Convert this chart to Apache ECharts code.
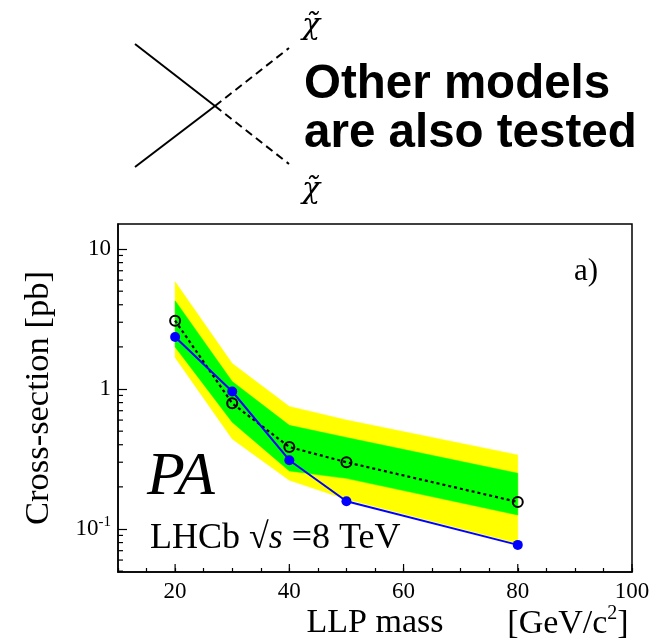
<!DOCTYPE html>
<html><head><meta charset="utf-8">
<script src="https://cdn.jsdelivr.net/npm/echarts@6/dist/echarts.min.js"></script>
<style>html,body{margin:0;padding:0;background:#fff}#c{width:671px;height:642px}</style>
</head><body><div id="c"></div>
<script>
// ---- data ----
const masses      = [20, 30, 40, 50, 80];
const expected    = [3.08, 0.79, 0.385, 0.30, 0.156];
const observed    = [2.35, 0.96, 0.31, 0.158, 0.077];
const green1Hi    = [4.27, 1.13, 0.55, 0.45, 0.25];
const green1Lo    = [2.0, 0.58, 0.26, 0.23, 0.126];
const yellow2Hi   = [5.84, 1.52, 0.75, 0.60, 0.338];
const yellow2Lo   = [1.68, 0.44, 0.223, 0.163, 0.079];
const xTickLabels = [20, 40, 60, 80, 100];
const yTickLabels = [0.1, 1, 10];
const yMinorTicks = [0.05,0.06,0.07,0.08,0.09,0.2,0.3,0.4,0.5,0.6,0.7,0.8,0.9,2,3,4,5,6,7,8,9];

const X_MIN = 10, X_MAX = 100, Y_MIN = 0.0493, Y_MAX = 15.1;
const SERIF = '"Liberation Serif","DejaVu Serif",serif';
const SANS = '"Liberation Sans",Arial,sans-serif';

const pairs = arr => masses.map((m, i) => [m, arr[i]]);
const bandData = (lo, hi) => masses.map((m, i) => [m, lo[i], hi[i]]);

const chart = echarts.init(document.getElementById('c'), null, {renderer: 'canvas'});

const isPow10 = v => Math.abs(Math.log10(v) - Math.round(Math.log10(v))) < 1e-6;

function bandSeries(name, lo, hi, color, z) {
  return {
    name: name, type: 'custom', silent: true, z: z,
    data: bandData(lo, hi),
    encode: {x: 0, y: [1, 2]},
    renderItem: (params, api) => {
      if (params.dataIndex !== 0) return null;
      const top = masses.map((m, i) => api.coord([m, hi[i]]));
      const bot = masses.map((m, i) => api.coord([m, lo[i]])).reverse();
      return {type: 'polygon', shape: {points: top.concat(bot)}, style: {fill: color, stroke: color, lineWidth: 0.5}};
    }
  };
}

chart.setOption({
  animation: false,
  backgroundColor: '#fff',
  grid: {left: 118, right: 39, top: 224, bottom: 70, show: true, borderColor: '#000', borderWidth: 1.5, backgroundColor: 'transparent'},
  xAxis: {
    type: 'value', min: X_MIN, max: X_MAX, interval: 5,
    axisLine: {show: true, lineStyle: {color: '#000', width: 1.5}},
    axisTick: {show: true, inside: true, length: 4, lineStyle: {color: '#000', width: 1.2}},
    splitLine: {show: false},
    axisLabel: {
      margin: 8, color: '#000', fontFamily: SERIF, fontSize: 23,
      formatter: v => xTickLabels.indexOf(v) >= 0 ? String(v) : ''
    }
  },
  yAxis: {
    type: 'log', logBase: 10, min: Y_MIN, max: Y_MAX,
    name: 'Cross-section [pb]', nameLocation: 'middle', nameGap: 62, nameRotate: 90,
    nameTextStyle: {fontFamily: SERIF, fontSize: 34.5, color: '#000'},
    axisLine: {show: true, lineStyle: {color: '#000', width: 1.5}},
    axisTick: {show: true, inside: true, length: 9, lineStyle: {color: '#000', width: 1.2}},
    splitLine: {show: false},
    axisLabel: {
      margin: 7, color: '#000', fontFamily: SERIF, fontSize: 23,
      showMinLabel: false, showMaxLabel: false,
      formatter: v => {
        if (!isPow10(v)) return '';
        const e = Math.round(Math.log10(v));
        if (e === 0) return '{b|1}';
        if (e === 1) return '{b|10}';
        return '{b|10}{s|' + e + '}';
      },
      rich: {
        b: {fontFamily: SERIF, fontSize: 23, color: '#000'},
        s: {fontFamily: SERIF, fontSize: 15, color: '#000', padding: [0, 0, 14, 0]}
      }
    }
  },
  series: [
    bandSeries('yellow', yellow2Lo, yellow2Hi, '#ffff00', 1),
    bandSeries('green', green1Lo, green1Hi, '#00ff00', 2),
    {name: 'expected', type: 'line', data: pairs(expected), symbol: 'circle', symbolSize: 10,
      lineStyle: {color: '#000', width: 2.2, type: [3, 3]},
      itemStyle: {color: 'rgba(0,0,0,0)', borderColor: '#000', borderWidth: 2}, z: 3},
    {name: 'observed', type: 'line', data: pairs(observed), symbol: 'circle', symbolSize: 10,
      lineStyle: {color: '#0000ff', width: 2},
      itemStyle: {color: '#0000ff'}, z: 4},
    {name: 'yMinor', type: 'custom', silent: true, z: 10, clip: false,
      data: yMinorTicks.map(v => [X_MIN, v]),
      renderItem: (params, api) => {
        const p = api.coord([X_MIN, api.value(1)]);
        return {type: 'line', shape: {x1: p[0], y1: p[1], x2: p[0] + 5, y2: p[1]}, style: {stroke: '#000', lineWidth: 1.2}};
      }},
    {name: 'xMajor', type: 'custom', silent: true, z: 10, clip: false,
      data: xTickLabels.map(v => [v, Y_MIN]),
      renderItem: (params, api) => {
        const p = api.coord([api.value(0), Y_MIN]);
        return {type: 'line', shape: {x1: p[0], y1: p[1], x2: p[0], y2: p[1] - 8}, style: {stroke: '#000', lineWidth: 1.2}};
      }}
  ],
  graphic: [
    {type: 'line', shape: {x1: 135, y1: 44, x2: 215, y2: 106}, style: {stroke: '#000', lineWidth: 2}},
    {type: 'line', shape: {x1: 135, y1: 167, x2: 215, y2: 106}, style: {stroke: '#000', lineWidth: 2}},
    {type: 'line', shape: {x1: 215, y1: 106, x2: 289, y2: 48}, style: {stroke: '#000', lineWidth: 2, lineDash: [8, 5]}},
    {type: 'line', shape: {x1: 215, y1: 106, x2: 289, y2: 164}, style: {stroke: '#000', lineWidth: 2, lineDash: [8, 5]}},
    {type: 'text', x: 311, y: 26, style: {text: 'χ̃', font: 'italic 30px "DejaVu Serif"', fill: '#000', align: 'center', verticalAlign: 'middle'}},
    {type: 'text', x: 311, y: 190, style: {text: 'χ̃', font: 'italic 30px "DejaVu Serif"', fill: '#000', align: 'center', verticalAlign: 'middle'}},
    {type: 'text', x: 304, y: 85, style: {text: 'Other models', font: 'bold 47.5px ' + SANS, fill: '#000', align: 'left', verticalAlign: 'middle'}},
    {type: 'text', x: 304, y: 134, style: {text: 'are also tested', font: 'bold 47.5px ' + SANS, fill: '#000', align: 'left', verticalAlign: 'middle'}},
    {type: 'text', x: 598, y: 272, z: 20, style: {text: 'a)', font: '31px ' + SERIF, fill: '#000', align: 'right', verticalAlign: 'middle'}},
    {type: 'text', x: 147, y: 478, z: 20, style: {text: 'PA', font: 'italic 62px ' + SERIF, fill: '#000', align: 'left', verticalAlign: 'middle'}},
    {type: 'text', x: 150, y: 539, z: 20, style: {
      text: '{n|LHCb \u221A}{i|s}{n| =8 TeV}', align: 'left', verticalAlign: 'middle',
      rich: {n: {fontFamily: SERIF, fontSize: 36, color: '#000'}, i: {fontFamily: SERIF, fontStyle: 'italic', fontSize: 36, color: '#000'}}
    }},
    {type: 'text', x: 375, y: 623, style: {text: 'LLP mass', font: '34px ' + SERIF, fill: '#000', align: 'center', verticalAlign: 'middle'}},
    {type: 'text', x: 568, y: 624, style: {
      text: '{n|[GeV/c}{s|2}{n|]}', align: 'center', verticalAlign: 'middle',
      rich: {n: {fontFamily: SERIF, fontSize: 34, color: '#000'}, s: {fontFamily: SERIF, fontSize: 20, color: '#000', padding: [0, 0, 20, 0]}}
    }}
  ]
});
</script>
</body></html>
